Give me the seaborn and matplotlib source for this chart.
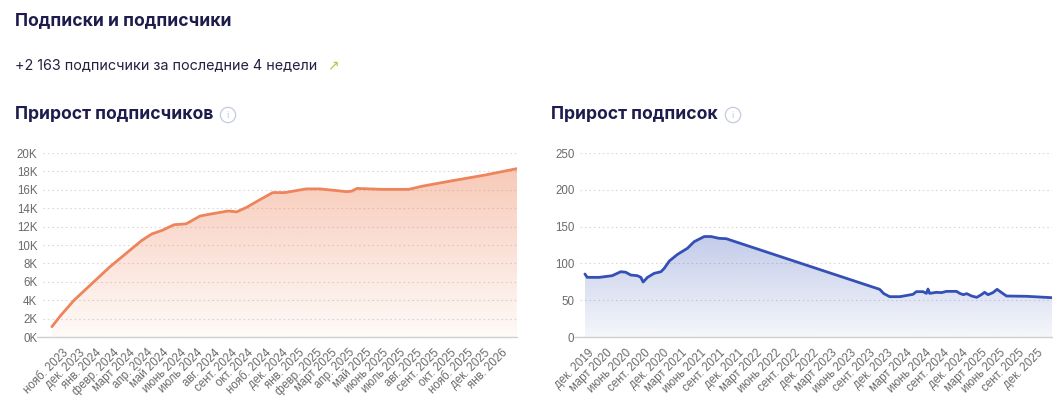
import matplotlib
matplotlib.use("Agg")
import matplotlib.pyplot as plt
import matplotlib.dates as mdates
import matplotlib.colors as mcolors
import matplotlib.ticker as ticker
import numpy as np
import pandas as pd
import seaborn as sns

# ---- data ----
followers_dates = ["2023-10-14", "2023-10-30", "2023-11-23", "2023-12-25", "2024-01-26", "2024-02-25",
                   "2024-03-24", "2024-04-11", "2024-04-30", "2024-05-21", "2024-06-12", "2024-07-07",
                   "2024-07-29", "2024-08-27", "2024-09-11", "2024-09-29", "2024-10-25", "2024-11-15",
                   "2024-11-25", "2024-12-07", "2025-01-14", "2025-02-08", "2025-03-28", "2025-04-06",
                   "2025-04-16", "2025-05-29", "2025-07-18", "2025-08-12", "2025-10-01", "2025-12-02",
                   "2026-01-29"]
followers_count = [1120, 2350, 4000, 5800, 7600, 9100,
                   10500, 11200, 11600, 12200, 12300, 13150,
                   13400, 13700, 13600, 14100, 15000, 15700,
                   15700, 15700, 16100, 16100, 15800, 15850,
                   16150, 16050, 16050, 16400, 16950, 17600,
                   18300]

subs_dates = ["2019-11-16", "2019-11-27", "2020-01-24", "2020-03-28", "2020-05-09", "2020-06-02",
              "2020-06-27", "2020-07-29", "2020-08-15", "2020-08-26", "2020-09-16", "2020-10-19",
              "2020-11-21", "2020-12-07", "2021-01-01", "2021-02-10", "2021-03-30", "2021-05-02",
              "2021-06-20", "2021-07-23", "2021-09-02", "2021-10-05", "2023-10-24", "2023-11-13",
              "2023-12-12", "2024-01-31", "2024-04-04", "2024-04-20", "2024-05-23", "2024-06-08",
              "2024-06-16", "2024-06-24", "2024-07-27", "2024-08-21", "2024-09-14", "2024-11-02",
              "2024-11-18", "2024-12-05", "2024-12-22", "2025-01-15", "2025-02-09", "2025-03-03",
              "2025-03-19", "2025-04-05", "2025-04-29", "2025-05-19", "2025-06-10", "2025-07-04",
              "2025-10-10", "2026-02-11"]
subs_count = [85.6, 81.1, 81, 83.3, 88.7, 88,
              84.2, 83.3, 81, 74.7, 81, 86.5,
              88.7, 93.3, 103.3, 112.3, 120.5, 129.5,
              136.5, 136.5, 134, 133.6, 64.8, 59,
              54.8, 54.8, 58, 61.6, 61.6, 59.3,
              65.2, 59.3, 60.7, 60.3, 62, 62,
              59.3, 57.5, 58.9, 55.7, 53.9, 57.5,
              60.7, 57.5, 60.3, 64.8, 60.3, 55.7,
              55.3, 53.4]

ru_months = ["янв.", "февр.", "март", "апр.", "май", "июнь",
             "июль", "авг.", "сент.", "окт.", "нояб.", "дек."]

title_main = "Подписки и подписчики"
subtitle = "+2 163 подписчики за последние 4 недели"
title_left = "Прирост подписчиков"
title_right = "Прирост подписок"

ORANGE = "#EE845B"
BLUE = "#3450B4"
NAVY = "#1D1C4C"
TICK_COLOR = "#6A6A6A"

sns.set_theme(style="white")
plt.rcParams["font.family"] = ["Liberation Sans", "DejaVu Sans"]

df_f = pd.DataFrame({"date": pd.to_datetime(followers_dates), "value": followers_count})
df_s = pd.DataFrame({"date": pd.to_datetime(subs_dates), "value": subs_count})

W, H = 1056, 412
fig = plt.figure(figsize=(W / 100, H / 100), dpi=100)
ax1 = fig.add_axes([43 / W, 1 - 337 / H, (517 - 43) / W, 184 / H])
ax2 = fig.add_axes([580 / W, 1 - 337 / H, (1052 - 580) / W, 184 / H])


def gradient_fill(ax, df, color, ymax, a_top, a_bot):
    xn = mdates.date2num(df["date"])
    grad = np.zeros((200, 1, 4))
    grad[:, :, :3] = mcolors.to_rgb(color)
    grad[:, 0, 3] = np.linspace(a_top, a_bot, 200)
    im = ax.imshow(grad, aspect="auto", origin="upper", zorder=1,
                   extent=[xn.min(), xn.max(), 0, ymax], interpolation="bilinear")
    poly = ax.fill_between(xn, df["value"], 0, facecolor="none", edgecolor="none")
    im.set_clip_path(poly.get_paths()[0], transform=ax.transData)


def style_axis(ax, ticks, xlim, ylim, ystep, yfmt):
    ax.set_xlim(mdates.date2num(pd.to_datetime(xlim[0])), mdates.date2num(pd.to_datetime(xlim[1])))
    ax.set_ylim(*ylim)
    ax.set_xticks(mdates.date2num(ticks))
    ax.set_xticklabels([f"{ru_months[d.month - 1]} {d.year}" for d in ticks],
                       rotation=45, ha="right", va="top", rotation_mode="anchor",
                       fontsize=8.3, color=TICK_COLOR)
    ax.yaxis.set_major_locator(ticker.MultipleLocator(ystep))
    ax.yaxis.set_major_formatter(ticker.FuncFormatter(yfmt))
    ax.tick_params(axis="y", length=0, pad=4, labelsize=8.3, labelcolor=TICK_COLOR)
    ax.tick_params(axis="x", length=0, pad=7)
    for s in ax.spines.values():
        s.set_visible(False)
    ax.grid(axis="y", color="#DADADA", linestyle=(0, (1.5, 2.5)), linewidth=0.8)
    ax.grid(axis="x", visible=False)
    ax.set_xlabel("")
    ax.set_ylabel("")
    ax.plot([-0.012, 1], [0, 0], transform=ax.transAxes, color="#CFCFCF",
            linewidth=1, clip_on=False, zorder=3)


sns.lineplot(data=df_f, x="date", y="value", ax=ax1, color=ORANGE, linewidth=2.0, zorder=4)
gradient_fill(ax1, df_f, ORANGE, 20000, 0.47, 0.04)
style_axis(ax1, pd.date_range("2023-11-01", "2026-01-01", freq="MS"),
           ("2023-09-28", "2026-01-29"), (0, 20000), 2000,
           lambda v, p: f"{v / 1000:.0f}K")

sns.lineplot(data=df_s, x="date", y="value", ax=ax2, color=BLUE, linewidth=2.0, zorder=4)
gradient_fill(ax2, df_s, BLUE, 250, 0.5, 0.05)
style_axis(ax2, pd.date_range("2019-12-01", "2025-12-01", freq="3MS"),
           ("2019-10-23", "2026-02-11"), (0, 250), 50,
           lambda v, p: f"{v:.0f}")

# ---- header texts ----
head = ["Inter", "DejaVu Sans"]
fig.text(15 / W, 1 - 21 / H, title_main, family=head, fontsize=12.6, fontweight="bold",
         color=NAVY, va="center", ha="left")
fig.text(15 / W, 1 - 65 / H, subtitle, family=head, fontsize=10.35, color="#222240",
         va="center", ha="left")
fig.text(333 / W, 1 - 65 / H, "↗", family=["DejaVu Sans"], fontsize=10, color="#A6CE39",
         va="center", ha="center")
for x0, txt, xi in [(15, title_left, 228), (551, title_right, 733)]:
    fig.text(x0 / W, 1 - 114 / H, txt, family=head, fontsize=12.6, fontweight="bold",
             color=NAVY, va="center", ha="left")
    fig.text(xi / W, 1 - 115 / H, "i", family=head, fontsize=6.5, color="#B9C0DA",
             va="center", ha="center",
             bbox=dict(boxstyle="circle,pad=0.35", facecolor="none", edgecolor="#C4CAE0",
                       linewidth=0.9))

fig.savefig("out.png", dpi=100)
